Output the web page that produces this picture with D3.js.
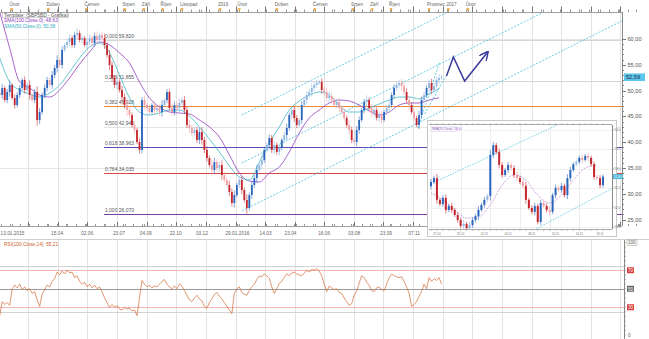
<!DOCTYPE html>
<html><head><meta charset="utf-8">
<script src="https://cdn.jsdelivr.net/npm/d3@7"></script>
<style>
body{margin:0;background:#fff}
svg{display:block}
text{font-family:"Liberation Sans",Arial,sans-serif}
</style>
</head><body>
<svg id="chart" width="649" height="339"></svg>
<script>
// ---- daily series sampled every 4 calendar days ----
const firstBar = "2015-01-13";
const barStepDays = 4;
const firstOpen = 49.6;
const close = [49.14,50.50,48.17,49.72,51.08,48.56,47.20,49.14,50.50,52.05,
50.11,51.08,49.14,48.17,49.72,44.29,45.84,49.14,50.50,52.05,
51.08,53.02,54.38,55.93,54.96,57.87,58.84,59.42,60.19,58.84,
60.78,61.16,59.81,60.19,58.84,59.42,60.19,59.22,60.58,59.81,
60.78,60.19,58.84,56.90,54.96,52.44,51.08,51.66,50.11,48.75,
47.20,46.23,45.26,43.32,42.35,40.03,38.48,48.17,47.20,46.62,
45.84,47.20,46.23,46.62,45.84,47.20,48.17,49.72,46.62,45.84,
47.20,46.62,47.59,48.17,46.23,43.32,42.74,41.77,42.35,40.42,
41.97,40.42,38.48,36.92,35.57,34.60,36.15,34.99,35.57,33.63,
32.66,31.69,30.33,28.20,29.75,31.69,32.66,30.72,28.78,27.23,
29.75,31.69,33.05,34.60,35.57,36.54,38.48,39.45,40.80,38.48,
39.45,38.09,38.86,40.42,41.38,42.74,45.26,46.23,44.68,43.32,
44.29,47.20,48.17,49.14,49.72,50.50,51.08,51.47,51.66,50.11,
49.72,48.56,48.95,48.17,47.20,47.78,46.62,45.84,44.68,43.32,
42.35,40.42,40.03,42.35,44.29,46.23,47.78,48.17,46.62,45.65,
46.23,44.68,45.26,44.29,45.84,46.62,47.20,49.14,50.50,51.08,
51.47,50.89,49.72,48.17,47.20,45.84,44.68,43.32,45.26,48.17,
49.14,50.50,51.47,50.11,50.89,52.05,52.44,52.59];
const wick = [.5,.8,.4,.6,.9,.3,.7,.5,.6,.4,
.7,.5,.9,.4,.6,1.1,.8,.5,.7,.6,
.4,.8,.6,.9,.5,.7,.4,.6,.8,.5,
.6,.9,.5,.7,.4,.8,.6,.5,.7,.9,
.4,.6,.8,.5,1.0,.7,.6,.9,.5,.8,
.7,1.2,.6,.5,.8,.4,.7,.6,.9,.5,
.6,.4,.8,.5,.7,.9,.4,.6,.5,.8,
.7,.6,.9,.5,.8,.6,1.0,.7,.5,.6,
.8,.9,.6,.7,.5,1.1,.8,.6,.7,.9,
.6,.5,.8,.7,.9,.4,.6,.8,.5,1.1,
.5,.7,.6,.9,.4,.8,.6,.5,.7,.6,
.8,.5,.7,.4,.6,.9,.5,.7,.8,.6,
.4,.7,.5,.8,.6,.9,.5,.6,.4,.7,
.6,.8,1.0,.7,.5,.6,.8,.4,.7,.5,
.9,.6,.5,.8,.7,.4,.6,.9,.5,.7,
.6,.5,.7,.8,.4,.6,.9,.5,.7,.6,
.5,.8,.6,.7,.9,.5,.6,.4,.8,.7,
.6,.5,.7,.8,.6,.5,.7,.4];

// moving averages, one value every 4 bars
const maStepBars = 4;
const smaSlow = [65.24,58.25,51.66,50.50,49.14,48.75,50.11,52.44,55.15,57.48,
59.42,58.84,57.29,55.35,51.66,48.56,46.81,45.84,45.65,45.46,
44.29,42.94,41.00,37.51,34.02,32.46,32.27,34.02,35.18,38.09,
41.77,44.68,46.23,47.59,48.17,47.98,47.20,46.04,45.26,45.84,
47.20,47.59,47.59,48.17,48.63];
const smaFast = [56.32,51.66,50.11,49.33,48.75,49.53,51.08,53.60,56.32,58.45,
59.22,57.29,53.02,48.56,45.84,45.26,45.65,46.23,46.23,45.07,
42.94,40.61,38.09,35.37,33.24,32.66,36.15,39.83,42.94,46.23,
47.98,49.14,49.72,49.14,47.20,45.84,45.84,46.62,47.40,48.17,
48.75,48.75,48.37,49.33,50.38];

// RSI, one value per bar
const rsi = [21,36,33,35,32,50,54,51,55,49,
52,48,50,45,47,38,31,44,49,54,
52,58,61,68,65,69,66,70,67,68,
62,64,58,55,57,52,55,51,54,50,
52,47,40,35,30,33,30,32,28,27,
30,28,29,26,27,21,40,59,55,52,
54,51,53,52,55,58,60,55,52,50,
53,50,55,53,48,43,38,36,40,43,
39,37,31,29,35,39,44,46,42,39,
35,31,27,23,45,50,52,46,44,43,
48,52,55,60,64,63,66,64,61,52,
45,50,56,58,62,66,64,67,68,66,
65,64,67,70,68,71,70,72,69,64,
55,47,53,51,49,50,46,45,40,36,
32,34,43,47,56,64,62,57,54,48,
47,51,52,49,48,55,62,66,64,63,
62,63,58,52,45,31,33,36,42,47,
55,50,62,58,61,59,62,55.21];
const rsiLevels = [[75,"#d4d4d4"],[70,"#f2b3b3"],[50,"#9a9a9a"],[30,"#f2b3b3"],[25,"#d4d4d4"]];

// Fibonacci retracement
const fibHigh = 59.82, fibLow = 26.07, fibStart = "2015-06-29", fibEnd = "2017-10-10";
const fibLevels = [0, 0.236, 0.382, 0.5, 0.618, 0.764, 1];
const fibColors = ["#d6d6d6","#d6d6d6","#ec8a3c","#e4e4e4","#5a4cb6","#d9474b","#7b3f9e"];

// rising channel and short trend lines (date, price)
const channelFrom = "2016-02-05", channelTo = "2017-10-06";
const channelStartPrice = [45.26, 35.95, 26.65];
const channelEndPrice = [82.10, 72.80, 63.50];
const steepLines = [["2016-11-13",42.74,"2016-12-18",55.54],["2016-11-24",45.50,"2016-12-28",52.80]];
const forecast = [["2016-12-29",52.82],["2017-01-09",56.51],["2017-01-27",51.86],["2017-03-05",57.48]];

// axes
const priceTicks = [60,55,50,45,40,35,30,25];
const priceGrid = [60,35];
const monthLabels = [["2015-02-01","Únor"],["2015-04-01","Duben"],["2015-06-01","Červen"],["2015-08-01","Srpen"],
["2015-09-01","Září"],["2015-10-01","Říjen"],["2015-11-01","Listopad"],["2016-01-01","2016"],["2016-02-01","Únor"],
["2016-04-01","Duben"],["2016-06-01","Červen"],["2016-08-01","Srpen"],["2016-09-01","Září"],["2016-10-01","Říjen"],
["2016-12-01","Prosinec"],["2017-01-01","2017"],["2017-02-01","Únor"]];
const dateLabels = [["2015-01-13","13.01.2015"],["2015-04-15","15.04"],["2015-06-02","02.06"],["2015-07-23","23.07"],
["2015-09-04","04.09"],["2015-10-22","22.10"],["2015-12-03","03.12"],["2016-01-29","29.01.2016"],["2016-03-14","14.03"],
["2016-04-23","23.04"],["2016-06-16","16.06"],["2016-08-03","03.08"],["2016-09-23","23.09"],["2016-11-07","07.11"]];
const gridDates = ["2015-02-27","2015-04-16","2015-06-02","2015-07-20","2015-09-06","2015-10-22","2015-12-09",
"2016-01-26","2016-03-13","2016-04-30","2016-06-15","2016-08-02","2016-09-19","2016-11-05","2016-12-23",
"2017-02-08","2017-03-28","2017-05-15","2017-07-01","2017-08-18","2017-10-03"];
const legendLines = [["Template: (SBP5BD - Grafika)","#555"],["SMA(100,Close,0): 48,63","#9040c0"],["SMA(50,Close,0): 50,38","#30b0c4"]];
const rsiTitle = "RSI(100,Close,14): 55,21";

// inset: recent bars on a finer time frame
const insetClose = [52.66,52.76,52.20,52.09,52.25,51.94,52.04,51.94,51.81,51.68,
51.53,51.58,51.47,51.55,51.68,51.78,51.94,52.07,52.20,52.30,
53.36,53.61,53.43,53.10,52.84,52.97,53.10,53.02,52.84,52.76,
52.66,52.56,52.20,51.99,51.89,52.04,51.63,52.12,52.04,51.94,
51.89,52.32,52.51,52.45,52.56,52.32,52.76,52.97,53.12,53.18,
53.28,53.23,53.33,53.28,53.12,52.79,52.76,52.58,52.80];
const insetWick = [.08,.06,.1,.05,.07,.09,.06,.08,.05,.07,
.06,.09,.05,.08,.07,.06,.1,.05,.07,.06,
.12,.08,.06,.09,.07,.05,.08,.06,.07,.09,
.06,.08,.1,.05,.07,.09,.06,.08,.05,.07,
.09,.06,.08,.05,.07,.06,.1,.08,.05,.07,
.06,.09,.05,.08,.06,.07,.05,.08,.06];
const insetMaStep = 4;
const insetMa = [52.38,52.20,51.94,51.73,51.76,52.07,52.58,52.84,52.71,52.32,52.12,52.32,52.71,53.02,53.10];
const insetTicks = [54.0,53.5,53.0,52.5,52.0,51.5];
const insetChannel = [[-1,52.58,60,54.75],[34.7,51.42,62,52.53]];
const insetDateLabels = [[2,"27.10"],[10,"31.10"],[18,"02.11"],[26,"04.11"],[34,"08.11"],[42,"10.11"],[50,"14.11"],[57,"16.11"]];

// ---------------------------------------------------------------
const svg = d3.select("#chart");
const parse = d3.utcParse("%Y-%m-%d");
const DAY = 864e5;
const t0 = parse(firstBar);
const barDate = i => new Date(t0.getTime() + i * barStepDays * DAY);
const fmt2 = v => d3.format(".2f")(v).replace(".", ",");
const fmt3 = v => d3.format(".3f")(v).replace(".", ",");

const x = d3.scaleUtc().domain([parse("2016-01-01"), parse("2017-01-01")]).range([220, 448.4]);
const y = d3.scaleLinear().domain([25, 60]).range([219.5, 39]);
const yR = d3.scaleLinear().domain([0, 100]).range([335, 242.5]);

const plot = {left: 0, right: 622, top: 12, bottom: 226};
const rsiBox = {top: 240, bottom: 339, right: 624};

const defs = svg.append("defs");
defs.append("clipPath").attr("id", "mainClip").append("rect")
  .attr("x", plot.left).attr("y", plot.top).attr("width", plot.right - plot.left).attr("height", plot.bottom - plot.top);
defs.append("marker").attr("id", "arrowHead").attr("viewBox", "0 0 10 10")
  .attr("refX", 9).attr("refY", 5).attr("markerWidth", 6).attr("markerHeight", 6).attr("orient", "auto")
  .append("path").attr("d", "M0,0L10,5L0,10").attr("fill", "none").attr("stroke", "#3a3a9e").attr("stroke-width", 1.6);

svg.append("rect").attr("width", 649).attr("height", 339).attr("fill", "#fff");

// vertical grid in both panels
const gx = gridDates.map(parse);
svg.append("g").selectAll("line").data(gx).join("line")
  .attr("x1", d => Math.round(x(d)) + .5).attr("x2", d => Math.round(x(d)) + .5)
  .attr("y1", plot.top).attr("y2", plot.bottom).attr("stroke", "#e3e3e3");
svg.append("g").selectAll("line").data(gx).join("line")
  .attr("x1", d => Math.round(x(d)) + .5).attr("x2", d => Math.round(x(d)) + .5)
  .attr("y1", rsiBox.top).attr("y2", rsiBox.bottom).attr("stroke", "#e3e3e3");
svg.append("g").selectAll("line").data(priceGrid).join("line")
  .attr("x1", plot.left).attr("x2", plot.right).attr("y1", d => Math.round(y(d)) + .5).attr("y2", d => Math.round(y(d)) + .5)
  .attr("stroke", "#e6e6e6");

const main = svg.append("g").attr("clip-path", "url(#mainClip)");

// Fibonacci levels
const fibX0 = x(parse(fibStart)), fibX1 = x(parse(fibEnd));
const fib = fibLevels.map((l, i) => ({l, p: fibHigh - l * (fibHigh - fibLow), c: fibColors[i]}));
main.append("g").selectAll("line").data(fib).join("line")
  .attr("x1", fibX0).attr("x2", fibX1)
  .attr("y1", d => Math.round(y(d.p)) + .5).attr("y2", d => Math.round(y(d.p)) + .5)
  .attr("stroke", d => d.c).attr("stroke-width", 1);
main.append("g").selectAll("text").data(fib).join("text")
  .attr("x", fibX0 + 1).attr("y", d => y(d.p) - 2)
  .attr("font-size", 5).attr("fill", "#555")
  .text(d => fmt3(d.l) + " " + fmt3(d.p));

// channel lines
const chX0 = x(parse(channelFrom)), chX1 = x(parse(channelTo));
main.append("g").selectAll("line").data(channelStartPrice.map((p, i) => [p, channelEndPrice[i]])).join("line")
  .attr("x1", chX0).attr("x2", chX1).attr("y1", d => y(d[0])).attr("y2", d => y(d[1]))
  .attr("stroke", "#3fbfd6").attr("stroke-width", .8).attr("stroke-dasharray", "2,1.5");
main.append("g").selectAll("line").data(steepLines).join("line")
  .attr("x1", d => x(parse(d[0]))).attr("y1", d => y(d[1]))
  .attr("x2", d => x(parse(d[2]))).attr("y2", d => y(d[3]))
  .attr("stroke", "#3fbfd6").attr("stroke-width", .8).attr("stroke-dasharray", "2,1.5");

// moving averages
const maLine = d3.line().x((d, k) => x(barDate(k * maStepBars))).y(d => y(d)).curve(d3.curveMonotoneX);
main.append("path").datum(smaSlow).attr("d", maLine).attr("fill", "none").attr("stroke", "#9040c0").attr("stroke-width", .8);
main.append("path").datum(smaFast).attr("d", maLine).attr("fill", "none").attr("stroke", "#40b8c8").attr("stroke-width", .8);

// candles
const bars = close.map((c, i) => {
  const o = i ? close[i - 1] : firstOpen;
  return {d: barDate(i), o, c, h: Math.max(o, c) + wick[i], l: Math.min(o, c) - wick[i]};
});
const candleColor = b => {
  const up = b.c >= b.o, strong = Math.abs(b.c - b.o) >= 1.2;
  return up ? (strong ? "#2b66bd" : "#8fb4e3") : (strong ? "#c3262b" : "#ef9ea3");
};
const cg = main.append("g");
cg.selectAll("line").data(bars).join("line")
  .attr("x1", d => x(d.d)).attr("x2", d => x(d.d)).attr("y1", d => y(d.h)).attr("y2", d => y(d.l))
  .attr("stroke", candleColor).attr("stroke-width", .7).attr("stroke-opacity", .8);
cg.selectAll("rect").data(bars).join("rect")
  .attr("x", d => x(d.d) - .9).attr("width", 1.8)
  .attr("y", d => y(Math.max(d.o, d.c))).attr("height", d => Math.max(.8, Math.abs(y(d.o) - y(d.c))))
  .attr("fill", candleColor);

// projected path
main.append("path").datum(forecast)
  .attr("d", d3.line().x(d => x(parse(d[0]))).y(d => y(d[1])))
  .attr("fill", "none").attr("stroke", "#3a3a9e").attr("stroke-width", 1.5).attr("marker-end", "url(#arrowHead)");

// legend
const lg = svg.append("g");
legendLines.forEach((l, i) => {
  lg.append("text").attr("x", 4).attr("y", 16.5 + i * 5.5).attr("font-size", 4.8).attr("fill", l[1]).text(l[0]);
});
lg.append("rect").attr("x", 2.5).attr("y", 12.5).attr("width", 66).attr("height", 5).attr("fill", "none").attr("stroke", "#aaa").attr("stroke-width", .5);

// top axis
const topAxis = svg.append("g");
topAxis.append("line").attr("x1", 0).attr("x2", plot.right).attr("y1", plot.top + .5).attr("y2", plot.top + .5).attr("stroke", "#a0a0a0");
const minorTop = d3.utcDay.every(14).range(parse("2015-01-05"), parse("2017-10-31"));
topAxis.selectAll(".mt").data(minorTop).join("line")
  .attr("x1", d => Math.round(x(d)) + .5).attr("x2", d => Math.round(x(d)) + .5).attr("y1", 9.5).attr("y2", 12).attr("stroke", "#999");
topAxis.selectAll(".Mt").data(gx).join("line")
  .attr("x1", d => Math.round(x(d)) + .5).attr("x2", d => Math.round(x(d)) + .5).attr("y1", 6.5).attr("y2", 12).attr("stroke", "#777");
topAxis.selectAll("path").data(monthLabels).join("path")
  .attr("d", d => { const px = x(parse(d[0])); return `M${px - 1.6},8.2L${px + 1.6},8.2L${px},11.2Z`; })
  .attr("fill", "#f0a02c");
topAxis.selectAll("text").data(monthLabels).join("text")
  .attr("x", d => x(parse(d[0])) - 2).attr("y", 6).attr("font-size", 4.6).attr("fill", "#666").text(d => d[1]);

// right price axis
const ra = svg.append("g");
ra.append("line").attr("x1", plot.right + .5).attr("x2", plot.right + .5).attr("y1", plot.top).attr("y2", plot.bottom).attr("stroke", "#888");
ra.selectAll(".mn").data(d3.range(25, 61, 1)).join("line")
  .attr("x1", plot.right).attr("x2", plot.right + 2).attr("y1", d => Math.round(y(d)) + .5).attr("y2", d => Math.round(y(d)) + .5).attr("stroke", "#888");
ra.selectAll(".mj").data(priceTicks).join("line")
  .attr("x1", plot.right).attr("x2", plot.right + 4).attr("y1", d => Math.round(y(d)) + .5).attr("y2", d => Math.round(y(d)) + .5).attr("stroke", "#777");
ra.selectAll("text").data(priceTicks).join("text")
  .attr("x", plot.right + 5.5).attr("y", d => y(d) + 2).attr("font-size", 5.6).attr("fill", "#555").text(fmt2);
const last = close[close.length - 1];
ra.append("rect").attr("x", plot.right + 2).attr("y", y(last) - 3.8).attr("width", 21).attr("height", 7.6).attr("fill", "#5cc6ec");
ra.append("text").attr("x", plot.right + 4).attr("y", y(last) + 2).attr("font-size", 5.6).attr("fill", "#1c2a40").text(fmt2(last));

// bottom date axis
const ba = svg.append("g");
ba.append("line").attr("x1", 0).attr("x2", plot.right).attr("y1", plot.bottom + .5).attr("y2", plot.bottom + .5).attr("stroke", "#a0a0a0");
ba.selectAll(".mb").data(minorTop).join("line")
  .attr("x1", d => Math.round(x(d)) + .5).attr("x2", d => Math.round(x(d)) + .5).attr("y1", plot.bottom - 2).attr("y2", plot.bottom).attr("stroke", "#999");
ba.selectAll(".Mb").data(gx).join("line")
  .attr("x1", d => Math.round(x(d)) + .5).attr("x2", d => Math.round(x(d)) + .5).attr("y1", plot.bottom - 4).attr("y2", plot.bottom).attr("stroke", "#777");
ba.selectAll("text").data(dateLabels).join("text")
  .attr("x", (d, i) => i ? x(parse(d[0])) : 0.5).attr("y", 235)
  .attr("text-anchor", (d, i) => i ? "middle" : "start")
  .attr("font-size", 4.8).attr("fill", "#666").text(d => d[1]);

// ---- inset ----
const ins = {x0: 427, y0: 120, x1: 616, y1: 236, pl: 429, pr: 612, pt: 125, pb: 229};
const ix = d3.scaleLinear().domain([0, insetClose.length - 1]).range([431, 603]);
const iy = d3.scaleLinear().domain([51.5, 54.0]).range([227, 130]);
const ig = svg.append("g");
defs.append("clipPath").attr("id", "insetClip").append("rect")
  .attr("x", ins.pl).attr("y", ins.pt).attr("width", ins.pr - ins.pl).attr("height", ins.pb - ins.pt);
ig.append("rect").attr("x", ins.x0 + .5).attr("y", ins.y0 + .5).attr("width", ins.x1 - ins.x0).attr("height", ins.y1 - ins.y0)
  .attr("fill", "#fff").attr("stroke", "#c8c8c8");
const insetGrid = d3.range(0, insetClose.length, 10);
ig.selectAll(".ivg").data(insetGrid).join("line")
  .attr("x1", d => Math.round(ix(d)) + .5).attr("x2", d => Math.round(ix(d)) + .5).attr("y1", ins.pt).attr("y2", ins.pb).attr("stroke", "#ececec");
ig.selectAll(".ihg").data(insetTicks).join("line")
  .attr("x1", ins.pl).attr("x2", ins.pr).attr("y1", d => Math.round(iy(d)) + .5).attr("y2", d => Math.round(iy(d)) + .5).attr("stroke", "#f0f0f0");
// inset frame lines and axes
ig.append("line").attr("x1", ins.pl).attr("x2", ins.pr).attr("y1", ins.pt - .5).attr("y2", ins.pt - .5).attr("stroke", "#aaa");
ig.append("line").attr("x1", ins.pl).attr("x2", ins.pr).attr("y1", ins.pb + .5).attr("y2", ins.pb + .5).attr("stroke", "#aaa");
ig.append("line").attr("x1", ins.pr + .5).attr("x2", ins.pr + .5).attr("y1", ins.pt).attr("y2", ins.pb).attr("stroke", "#888");
ig.selectAll(".itt").data(d3.range(0, insetClose.length, 2)).join("line")
  .attr("x1", d => ix(d)).attr("x2", d => ix(d)).attr("y1", ins.pt - 2).attr("y2", ins.pt).attr("stroke", "#999").attr("stroke-width", .5);
ig.selectAll(".itb").data(d3.range(0, insetClose.length, 2)).join("line")
  .attr("x1", d => ix(d)).attr("x2", d => ix(d)).attr("y1", ins.pb).attr("y2", ins.pb + 2).attr("stroke", "#999").attr("stroke-width", .5);
ig.selectAll(".iyt").data(insetTicks).join("line")
  .attr("x1", ins.pr).attr("x2", ins.pr + 2).attr("y1", d => iy(d)).attr("y2", d => iy(d)).attr("stroke", "#888").attr("stroke-width", .6);
ig.selectAll(".iyl").data(insetTicks).join("text")
  .attr("x", ins.pr + 2.5).attr("y", d => iy(d) + 1).attr("font-size", 3).attr("fill", "#666").text(d => d3.format(".1f")(d).replace(".", ","));
ig.selectAll(".idl").data(insetDateLabels).join("text")
  .attr("x", d => ix(d[0])).attr("y", ins.pb + 5.5).attr("text-anchor", "middle").attr("font-size", 3).attr("fill", "#777").text(d => d[1]);

const inner = ig.append("g").attr("clip-path", "url(#insetClip)");
inner.selectAll(".ich").data(insetChannel).join("line")
  .attr("x1", d => ix(d[0])).attr("y1", d => iy(d[1])).attr("x2", d => ix(d[2])).attr("y2", d => iy(d[3]))
  .attr("stroke", "#3fbfd6").attr("stroke-width", .7).attr("stroke-dasharray", "1.5,1.2");
inner.append("path").datum(insetMa)
  .attr("d", d3.line().x((d, k) => ix(k * insetMaStep)).y(d => iy(d)).curve(d3.curveMonotoneX))
  .attr("fill", "none").attr("stroke", "#a05cc8").attr("stroke-width", .7).attr("stroke-dasharray", "1,1");
const ibars = insetClose.map((c, i) => {
  const o = i ? insetClose[i - 1] : 52.55;
  return {i, o, c, h: Math.max(o, c) + insetWick[i], l: Math.min(o, c) - insetWick[i]};
});
const iColor = b => {
  const up = b.c >= b.o, strong = Math.abs(b.c - b.o) >= 0.1;
  return up ? (strong ? "#2b66bd" : "#8fb4e3") : (strong ? "#c3262b" : "#ef9ea3");
};
inner.selectAll(".iw").data(ibars).join("line")
  .attr("x1", d => ix(d.i)).attr("x2", d => ix(d.i)).attr("y1", d => iy(d.h)).attr("y2", d => iy(d.l))
  .attr("stroke", iColor).attr("stroke-width", .6);
inner.selectAll(".ib").data(ibars).join("rect")
  .attr("x", d => ix(d.i) - 1).attr("width", 2)
  .attr("y", d => iy(Math.max(d.o, d.c))).attr("height", d => Math.max(.8, Math.abs(iy(d.o) - iy(d.c))))
  .attr("fill", iColor);
const iLast = insetClose[insetClose.length - 1];
ig.append("rect").attr("x", ins.pr + 1).attr("y", iy(iLast) - 2.5).attr("width", 10).attr("height", 5).attr("fill", "#49b6d8");
ig.append("text").attr("x", ins.pr + 1.8).attr("y", iy(iLast) + 1).attr("font-size", 3).attr("fill", "#fff").text(fmt2(iLast));
ig.append("rect").attr("x", 431).attr("y", 127).attr("width", 26).attr("height", 4.5).attr("fill", "#fff").attr("stroke", "#c9b3e0").attr("stroke-width", .4);
ig.append("text").attr("x", 432).attr("y", 130.4).attr("font-size", 3).attr("fill", "#8a4cc0").text("SMA(20,Close): " + fmt2(insetMa[insetMa.length - 1]));

// ---- RSI panel ----
svg.append("line").attr("x1", 0).attr("x2", 649).attr("y1", 239.5).attr("y2", 239.5).attr("stroke", "#d0d0d0");
const rg = svg.append("g");
rg.selectAll(".lvl").data(rsiLevels).join("line")
  .attr("x1", 0).attr("x2", rsiBox.right).attr("y1", d => Math.round(yR(d[0])) + .5).attr("y2", d => Math.round(yR(d[0])) + .5)
  .attr("stroke", d => d[1]).attr("stroke-width", d => d[0] === 50 ? 1.2 : 1);
rg.append("path").datum(rsi)
  .attr("d", d3.line().x((d, i) => x(barDate(i))).y(d => yR(d)))
  .attr("fill", "none").attr("stroke", "#d46a34").attr("stroke-width", .7);
rg.append("text").attr("x", 4).attr("y", 245.5).attr("font-size", 4.8).attr("fill", "#d0602c").text(rsiTitle);
rg.append("line").attr("x1", rsiBox.right + .5).attr("x2", rsiBox.right + .5).attr("y1", rsiBox.top).attr("y2", rsiBox.bottom).attr("stroke", "#888");
rg.selectAll(".rmt").data(d3.range(0, 101, 5)).join("line")
  .attr("x1", rsiBox.right).attr("x2", rsiBox.right + 2).attr("y1", d => yR(d)).attr("y2", d => yR(d)).attr("stroke", "#888").attr("stroke-width", .6);
const rsiMarks = [[100, "#fff", "#555", "#999"], [70, "#d93c3c", "#fff", "none"], [50, "#666", "#fff", "none"], [30, "#d93c3c", "#fff", "none"], [0, "#fff", "#555", "none"]];
rsiMarks.forEach(m => {
  const yy = yR(m[0]);
  rg.append("rect").attr("x", rsiBox.right + 3).attr("y", yy - 3).attr("width", m[0] === 100 ? 10 : 7).attr("height", 6)
    .attr("fill", m[1]).attr("stroke", m[3]).attr("stroke-width", .5);
  rg.append("text").attr("x", rsiBox.right + 4).attr("y", yy + 1.8).attr("font-size", 4.6).attr("fill", m[2]).text(m[0]);
});
</script>
</body></html>
